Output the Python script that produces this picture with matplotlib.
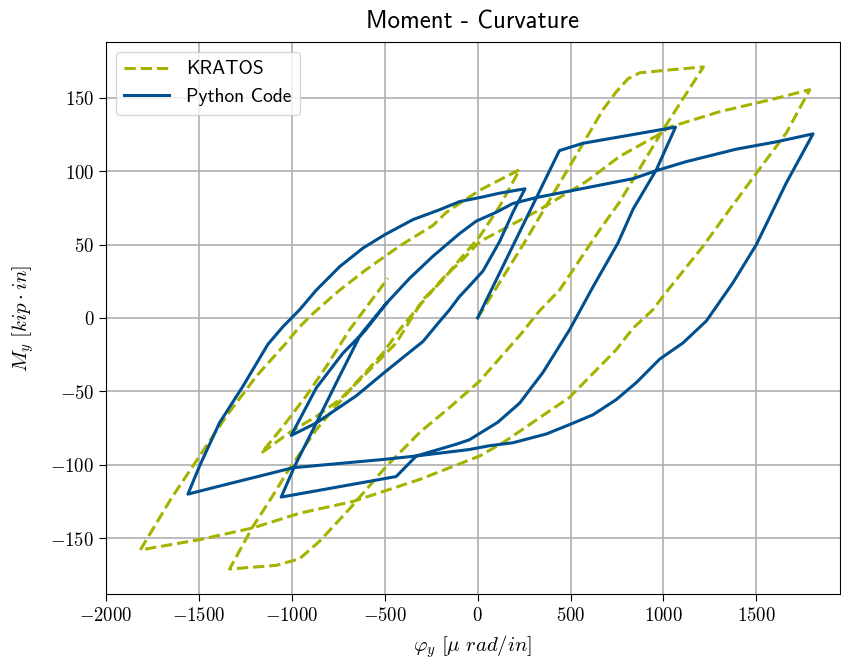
import matplotlib
matplotlib.use("Agg")
import matplotlib.pyplot as plt

# Moment-curvature history, curvature in micro rad/in, moment in kip*in
kratos_phi = [
    0, 250, 531, 675, 746, 810, 872, 1033, 1215,
    997, 764, 657, 441, 334, 226, 11, -151, -312, -491, -689, -850, -958, -1083, -1335,
    -1209, -1102, -1030, -868, -671, -510, -420, -348, -276, -187, -79, 11, 101, 316, 585, 764, 962, 1033, 1302, 1571, 1787,
    1661, 1500, 1355, 1212, 997, 943, 836, 746, 495, 136, 11, -312, -671, -958, -1209, -1496, -1815,
    -1649, -1496, -1353, -1191, -1030, -958, -886, -779, -742, -599, -420, -241, -168, -97, 11, 118, 226,
    118, 11, -97, -187, -294, -438, -617, -742, -868, -1012, -1164,
    -1048, -922, -814, -689, -483,
]
kratos_m = [
    0, 51, 111, 142, 154, 163, 167, 169, 171,
    128, 79, 60, 19, 5, -12, -43, -61, -78, -101, -130, -152, -164, -168.5, -171,
    -142, -121, -106, -76, -46.5, -24, -8, 3, 14, 27, 40, 52, 58, 72.5, 93, 110, 124, 130, 140.5, 148.5, 155.5,
    126, 98.6, 73.7, 48.7, 14.7, 5.6, -7, -21.6, -54, -85, -94, -110, -125, -133, -143, -151, -158,
    -123, -94, -67, -39.7, -17, -6, 3, 15, 19, 33, 49, 63, 72, 78, 87, 94, 101,
    76, 55.5, 39.7, 26, 12.5, -17, -40, -55.6, -67, -78, -92,
    -74, -53, -33, -8, 27,
]

python_phi = [
    0, 440, 567, 1065,
    962, 836, 755, 620, 495, 352, 226, 109, -45, -115, -330, -438, -1057,
    -985, -850, -760, -635, -608, -491, -366, -241, -97, -7, 100, 190, 316, 840, 962, 1123, 1392, 1608, 1805,
    1661, 1500, 1374, 1231, 1105, 980, 854, 746, 620, 495, 370, 190, 65, -45, -330, -510, -994, -1173, -1389, -1559,
    -1497, -1389, -1263, -1129, -1048, -958, -868, -742, -617, -500, -348, -205, -97, 11, 118, 255,
    190, 118, 29, -50, -97, -151, -222, -294, -491, -653, -868, -1003,
    -868, -725, -608, -491,
]
python_m = [
    0, 114, 119, 130,
    101, 74, 51, 21, -8, -37, -58, -71, -83, -86, -94, -108, -122,
    -101, -67, -44, -12.5, -8, 10, 27, 42, 57.5, 66, 72, 78, 82, 95, 100.4, 106.5, 115, 120, 125.4,
    92, 50, 24, -2, -17, -28, -44, -55.6, -66, -72.6, -79, -85, -87, -89.6, -94, -96.4, -102, -107.7, -114.5, -120,
    -101, -71.4, -46.5, -18, -6, 5.6, 19, 35, 47.6, 56.7, 67, 73.7, 79.3, 82, 85, 88,
    72, 52, 32, 21, 14.7, 5.6, -5, -16, -36, -53, -71.5, -80,
    -47.6, -24, -9, 10,
]

x_ticks = [-2000, -1500, -1000, -500, 0, 500, 1000, 1500]
y_ticks = [-150, -100, -50, 0, 50, 100, 150]


def main():
    plt.rcParams["mathtext.fontset"] = "cm"

    fig = plt.figure(figsize=(8.41, 6.61), dpi=100)
    ax = fig.add_axes([0.126, 0.1014, 0.8728, 0.8351])

    ax.plot(kratos_phi, kratos_m, "--", color="#a5b300", lw=2.2, label="KRATOS")
    ax.plot(python_phi, python_m, "-", color="#00508f", lw=2.2, label="Python Code")

    ax.set_xlim(-2000, 1950)
    ax.set_ylim(-188, 188)
    ax.set_xticks(x_ticks)
    ax.set_xticklabels([f"${t}$" for t in x_ticks], fontsize=13.5)
    ax.set_yticks(y_ticks)
    ax.set_yticklabels([f"${t}$" for t in y_ticks], fontsize=13.5)
    ax.tick_params(length=5)

    ax.set_xlabel(r"$\varphi_y\ [\mu\ rad/in]$", fontsize=15, labelpad=6)
    ax.set_ylabel(r"$M_y\ [kip \cdot in]$", fontsize=15, labelpad=10)
    ax.set_title("Moment - Curvature", fontfamily="cmss10", fontsize=17.8, pad=9.5)
    ax.grid(True, color="#b0b0b0", lw=1.2)
    ax.set_axisbelow(True)

    leg = ax.legend(loc="upper left", prop={"family": "cmss10", "size": 14},
                    handlelength=2.3, handletextpad=0.85, borderpad=0.45)
    leg.get_frame().set_linewidth(1.0)

    fig.savefig("out.png", dpi=100)


if __name__ == "__main__":
    main()
